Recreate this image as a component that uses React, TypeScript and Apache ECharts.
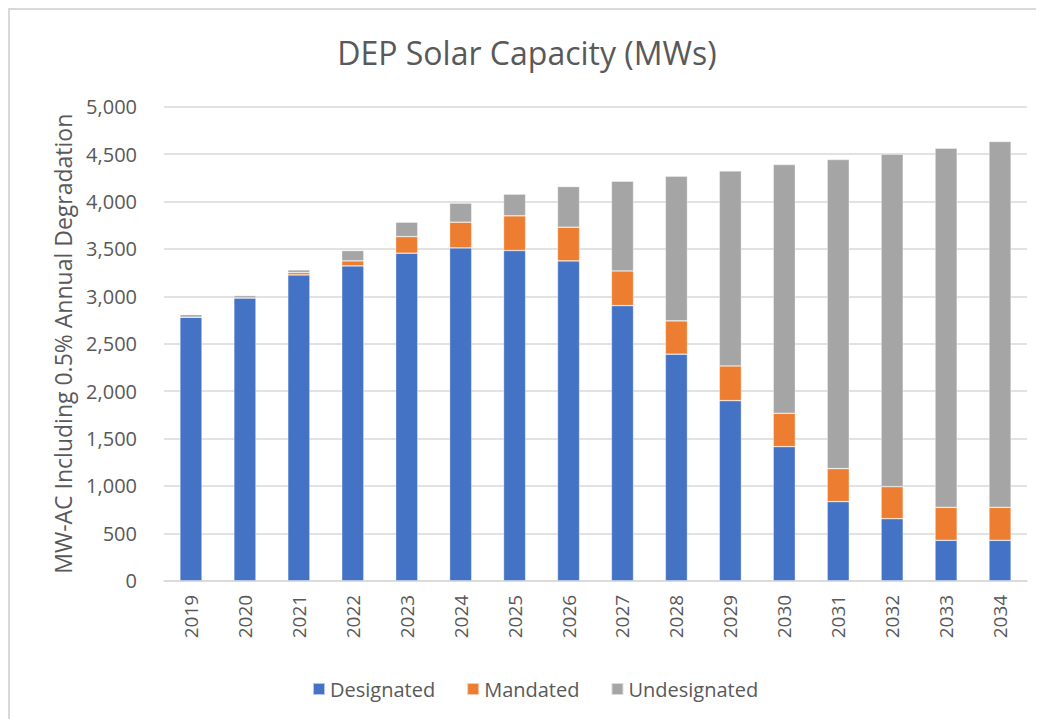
import React, { useEffect, useRef } from "react";
import * as echarts from "echarts";

const years = ["2019","2020","2021","2022","2023","2024","2025","2026","2027","2028","2029","2030","2031","2032","2033","2034"];
const designated = [2780, 2983, 3226, 3321, 3455, 3511, 3483, 3374, 2902, 2390, 1900, 1415, 835, 655, 427, 427];
const mandated = [0, 0, 25, 53, 175, 271, 366, 355, 366, 351, 366, 352, 348, 338, 348, 348];
const undesignated = [27, 25, 28, 109, 152, 201, 229, 429, 947, 1527, 2057, 2623, 3260, 3507, 3788, 3858];

const FONT = "'Open Sans', sans-serif";
const TEXT = "#595959";

export default function App() {
  const ref = useRef<HTMLDivElement>(null);
  useEffect(() => {
    if (!ref.current) return;
    const chart = echarts.init(ref.current, undefined, { renderer: "svg" });
    const barStyle = { borderColor: "rgba(255,255,255,0.6)", borderWidth: 0.6 };
    chart.setOption({
      animation: false,
      textStyle: { fontFamily: FONT },
      title: {
        text: "DEP Solar Capacity (MWs)",
        left: "center",
        top: 22,
        padding: 0,
        textStyle: { color: TEXT, fontSize: 32, fontWeight: "normal", fontFamily: FONT, lineHeight: 40 },
      },
      legend: {
        left: 297,
        top: 664,
        itemWidth: 12,
        itemHeight: 12,
        itemGap: 31,
        icon: "rect",
        textStyle: { color: TEXT, fontSize: 20, fontFamily: FONT },
        data: ["Designated", "Mandated", "Undesignated"],
      },
      grid: { left: 154, right: 17, top: 96.7, bottom: 138.2, containLabel: false },
      xAxis: {
        type: "category",
        data: years,
        axisLine: { lineStyle: { color: "#D9D9D9", width: 1.5 } },
        axisTick: { show: false },
        axisLabel: { rotate: 90, color: TEXT, fontSize: 19, margin: 14, fontFamily: FONT },
      },
      yAxis: {
        type: "value",
        min: 0,
        max: 5000,
        interval: 500,
        name: "MW-AC Including 0.5% Annual Degradation",
        nameLocation: "middle",
        nameGap: 90,
        nameTextStyle: { color: TEXT, fontSize: 23, fontFamily: FONT },
        axisLine: { show: false },
        axisTick: { show: false },
        splitLine: { lineStyle: { color: "#D9D9D9", width: 1.5 } },
        axisLabel: {
          color: TEXT,
          fontSize: 20,
          margin: 27,
          fontFamily: FONT,
          formatter: (v: number) => v.toLocaleString("en-US"),
        },
      },
      series: [
        { name: "Designated", type: "bar", stack: "total", data: designated, barCategoryGap: "59%", itemStyle: { color: "#4472C4", ...barStyle } },
        { name: "Mandated", type: "bar", stack: "total", data: mandated, itemStyle: { color: "#ED7D31", ...barStyle } },
        { name: "Undesignated", type: "bar", stack: "total", data: undesignated, itemStyle: { color: "#A5A5A5", ...barStyle } },
      ],
    });
    return () => chart.dispose();
  }, []);
  return (
    <div style={{ borderTop: "2px solid #D9D9D9", borderLeft: "2px solid #D9D9D9", width: 1036, height: 711, boxSizing: "border-box" }}>
      <div ref={ref} style={{ width: 1034, height: 709 }} />
    </div>
  );
}
